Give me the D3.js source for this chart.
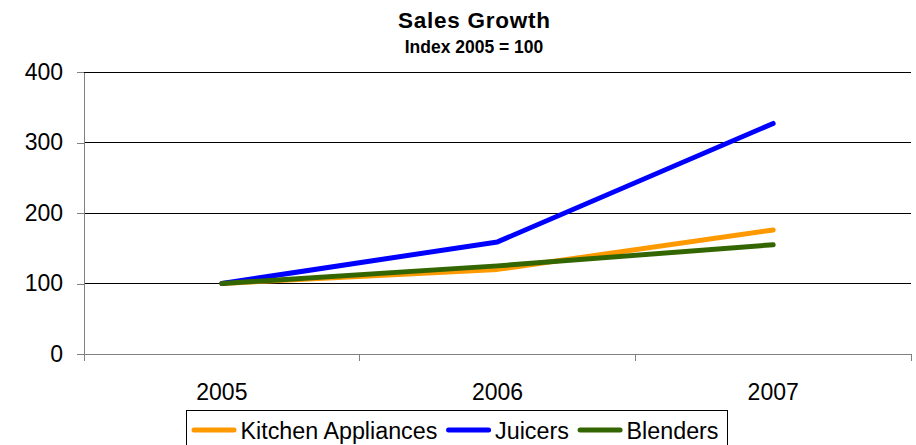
<!DOCTYPE html>
<html>
<head>
<meta charset="utf-8">
<script src="https://cdn.jsdelivr.net/npm/d3@7"></script>
<style>
  html, body { margin: 0; padding: 0; background: #fff; }
  svg { display: block; font-family: "Liberation Sans", Arial, sans-serif; }
</style>
</head>
<body>
<svg id="chart" width="916" height="445"></svg>
<script>
const categories = ["2005", "2006", "2007"];
const seriesNames = ["Kitchen Appliances", "Juicers", "Blenders"];
const kitchenAppliances = [100, 120, 176];
const juicers = [100, 159, 327];
const blenders = [100, 125, 155];
const yTicks = [0, 100, 200, 300, 400];
const seriesColors = ["#FF9900", "#0000FF", "#336600"];
const titleText = "Sales Growth";
const subtitleText = "Index 2005 = 100";

(function () {
const series = [kitchenAppliances, juicers, blenders].map((vals, i) => ({
  name: seriesNames[i], color: seriesColors[i], values: vals
}));

const svg = d3.select("#chart");
const pLeft = 84, pRight = 911, pTop = 72, pBottom = 354;

const x = d3.scaleBand().domain(categories).range([pLeft, pRight]).padding(0);
const y = d3.scaleLinear().domain([0, 400]).range([pBottom, pTop]);

// gridlines
svg.append("g").selectAll("line").data(yTicks.filter(d => d > 0)).join("line")
  .attr("x1", pLeft).attr("x2", pRight)
  .attr("y1", d => y(d)).attr("y2", d => y(d))
  .attr("stroke", "#000").attr("stroke-width", 1).attr("shape-rendering", "crispEdges");

// y axis
const yAxis = svg.append("g").attr("transform", `translate(${pLeft},0)`)
  .call(d3.axisLeft(y).tickValues(yTicks).tickSize(7).tickPadding(14).tickSizeOuter(0));
yAxis.select(".domain").attr("stroke", "#808080").attr("shape-rendering", "crispEdges");
yAxis.selectAll(".tick line").attr("stroke", "#808080").attr("shape-rendering", "crispEdges");
yAxis.selectAll(".tick text").attr("font-size", 23).attr("fill", "#000")
  .attr("font-family", "Liberation Sans, Arial, sans-serif");

// x axis
const xAxis = svg.append("g").attr("transform", `translate(0,${pBottom})`)
  .call(d3.axisBottom(x).tickSize(0).tickPadding(30).tickSizeOuter(0));
xAxis.select(".domain").attr("stroke", "#808080").attr("shape-rendering", "crispEdges");
xAxis.selectAll(".tick text").attr("font-size", 23).attr("fill", "#000")
  .attr("font-family", "Liberation Sans, Arial, sans-serif");
// category boundary ticks
const boundaries = categories.map(c => x(c)).concat([x(categories[categories.length - 1]) + x.bandwidth()]);
svg.append("g").selectAll("line").data(boundaries).join("line")
  .attr("x1", d => d).attr("x2", d => d)
  .attr("y1", pBottom).attr("y2", pBottom + 7)
  .attr("stroke", "#808080").attr("shape-rendering", "crispEdges");

// lines
const line = d3.line()
  .x((d, i) => x(categories[i]) + x.bandwidth() / 2)
  .y(d => y(d));
svg.append("g").selectAll("path").data(series).join("path")
  .attr("d", d => line(d.values))
  .attr("fill", "none")
  .attr("stroke", d => d.color)
  .attr("stroke-width", 5)
  .attr("stroke-linecap", "round")
  .attr("stroke-linejoin", "round");

// title
svg.append("text").attr("x", 474).attr("y", 27.8).attr("text-anchor", "middle")
  .attr("font-weight", "bold").attr("font-size", 22.5)
  .attr("textLength", 152).attr("lengthAdjust", "spacing").text(titleText);
svg.append("text").attr("x", 474).attr("y", 53.3).attr("text-anchor", "middle")
  .attr("font-weight", "bold").attr("font-size", 17.5).text(subtitleText);

// legend
const legend = svg.append("g");
legend.append("rect")
  .attr("x", 186.5).attr("y", 410.5).attr("width", 541).attr("height", 45)
  .attr("fill", "#fff").attr("stroke", "#000").attr("stroke-width", 1);
let lx = 193;
const ly = 430;
series.forEach(s => {
  legend.append("line").attr("x1", lx + 1).attr("x2", lx + 41).attr("y1", ly).attr("y2", ly)
    .attr("stroke", s.color).attr("stroke-width", 5).attr("stroke-linecap", "round");
  const t = legend.append("text").attr("x", lx + 47.5).attr("y", 439.3)
    .attr("font-size", 23.3).text(s.name);
  lx = lx + 47.5 + t.node().getComputedTextLength() + 10.2;
});
})();
</script>
</body>
</html>
